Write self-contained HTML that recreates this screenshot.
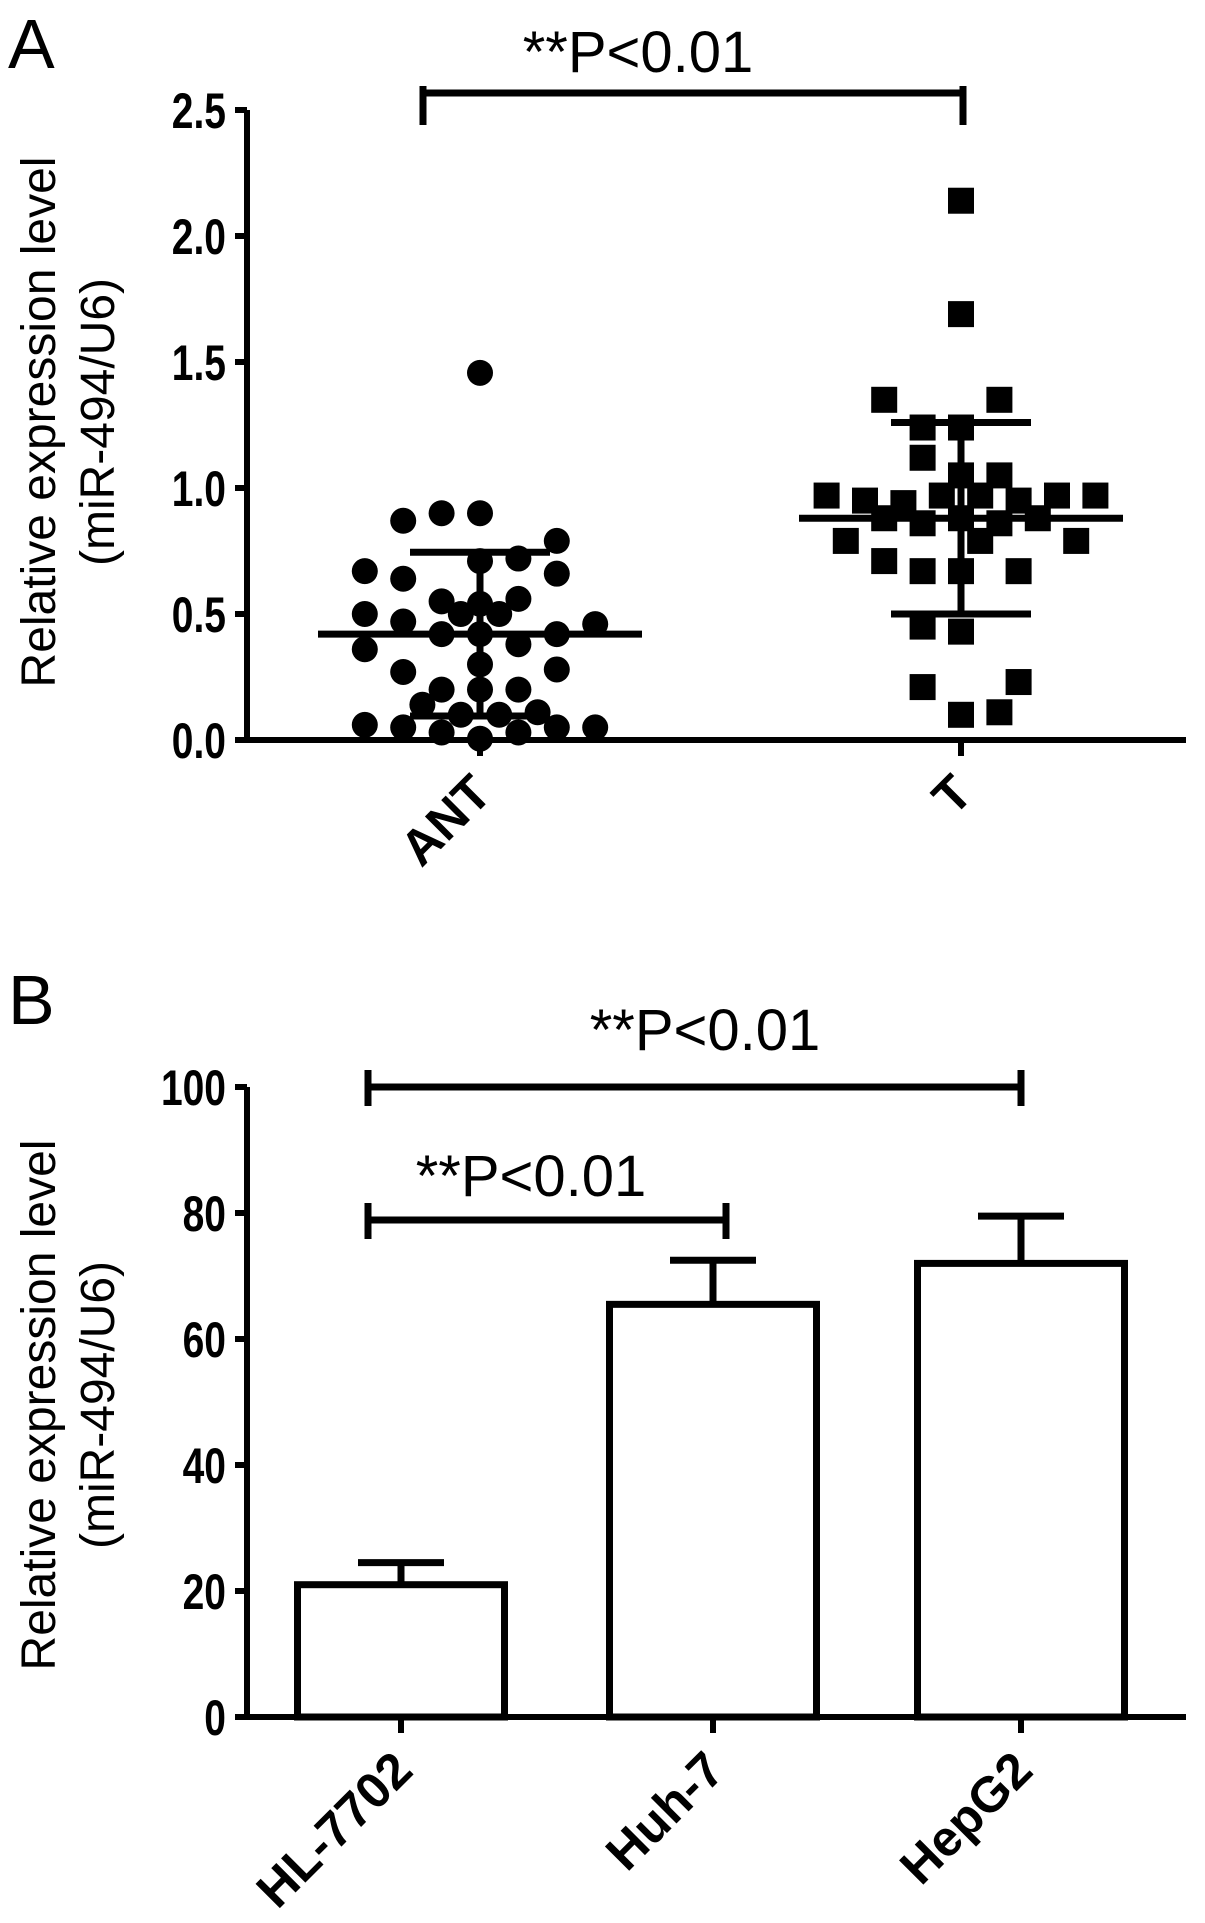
<!DOCTYPE html>
<html><head><meta charset="utf-8"><style>
body{margin:0;background:#fff}
svg{display:block;font-family:"Liberation Sans",sans-serif}
.tk{font-weight:bold;font-size:50px}
</style></head><body>
<svg width="1205" height="1923" viewBox="0 0 1205 1923">
<g id="A"></g>
<g id="B"></g>
</svg>
<script>
// Panel A data
const antValues=[1.457,0.87,0.90,0.90,0.79,0.67,0.64,0.71,0.72,0.66,0.55,0.54,0.56,0.50,0.47,0.50,0.50,0.46,0.42,0.42,0.38,0.42,0.36,0.27,0.30,0.28,0.20,0.20,0.20,0.14,0.10,0.10,0.11,0.06,0.05,0.03,0.005,0.03,0.05,0.05];
const antJitter=[0,-4,-2,0,4,-6,-4,0,2,4,-2,0,2,-6,-4,-1,1,6,-2,0,2,4,-6,-4,0,4,-2,0,2,-3,-1,1,3,-6,-4,-2,0,2,4,6];
const tValues=[2.14,1.69,1.35,1.35,1.24,1.24,1.12,1.05,1.05,0.97,0.95,0.94,0.97,0.97,0.95,0.97,0.97,0.88,0.86,0.88,0.86,0.88,0.79,0.79,0.79,0.71,0.67,0.67,0.67,0.45,0.43,0.21,0.23,0.10,0.11];
const tJitter=[0,0,-4,2,-2,0,-2,2,0,-7,-5,-3,-1,1,3,5,7,-4,-2,0,2,4,-6,1,6,-4,-2,0,3,-2,0,-2,3,0,2];
const groupsA=["ANT","T"];
const meansA=[0.42,0.88];
const sdA=[0.325,0.38];
const ticksA=[0,0.5,1.0,1.5,2.0,2.5];
// Panel B data
const catsB=["HL-7702","Huh-7","HepG2"];
const valsB=[21,65.5,72];
const errB=[3.5,7,7.5];
const ticksB=[0,20,40,60,80,100];

const NS="http://www.w3.org/2000/svg";
function mk(p,t,a,txt){const e=document.createElementNS(NS,t);for(const k in a)e.setAttribute(k,a[k]);if(txt!==undefined)e.textContent=txt;p.appendChild(e);return e;}
const SW=6;

// ---- Panel A
const A=document.getElementById('A');
const ax0=247, ay0=740, aPer=252, axR=1186;
const ay=v=>ay0-v*aPer;
const gx=[480,961];
const js=19.2;
let t=mk(A,'text',{x:8,y:68,'font-size':70},'A');


let l=mk(A,'path',{d:`M${ax0} ${ay(2.5)}V${ay0}H${axR}`,stroke:'#000','stroke-width':SW,fill:'none'});


ticksA.forEach(v=>{
  mk(A,'line',{x1:ax0-12,x2:ax0,y1:ay(v),y2:ay(v),stroke:'#000','stroke-width':SW});
  const e=mk(A,'text',{x:0,y:0,'text-anchor':'end',class:'tk',transform:`translate(226,${ay(v)+18}) scale(0.78,1)`},v.toFixed(1));
  
  
});
groupsA.forEach((g,i)=>{
  mk(A,'line',{x1:gx[i],x2:gx[i],y1:ay0,y2:ay0+16,stroke:'#000','stroke-width':SW});
  const e=mk(A,'text',{x:0,y:0,'text-anchor':'end',class:'tk','font-size':48,transform:`translate(${gx[i]+14},${ay0+56}) rotate(-45)`},g);
  
  
});
let yt=mk(A,'text',{transform:'translate(55,422) rotate(-90)','text-anchor':'middle','font-size':48},'Relative expression level');


yt=mk(A,'text',{transform:'translate(114,422) rotate(-90)','text-anchor':'middle','font-size':48},'(miR-494/U6)');


antValues.forEach((v,i)=>{
  const c=mk(A,'circle',{cx:gx[0]+antJitter[i]*js,cy:ay(v),r:13,fill:'#000'});
  
  
});
tValues.forEach((v,i)=>{
  const c=mk(A,'rect',{x:gx[1]+tJitter[i]*js-13,y:ay(v)-13,width:26,height:26,fill:'#000'});
  
  
});
groupsA.forEach((g,i)=>{
  const m=meansA[i],s=sdA[i],x=gx[i];
  const e=mk(A,'path',{d:`M${x-162} ${ay(m)}H${x+162}M${x-70} ${ay(m+s)}H${x+70}M${x-70} ${ay(m-s)}H${x+70}M${x} ${ay(m+s)}V${ay(m-s)}`,stroke:'#000','stroke-width':SW+1,fill:'none'});
  
  
});
let br=mk(A,'path',{d:'M423 93H963M423 86V125M963 86V125',stroke:'#000','stroke-width':SW+1,fill:'none'});


t=mk(A,'text',{x:638,y:72,'text-anchor':'middle','font-size':58},'**P<0.01');



// ---- Panel B
const B=document.getElementById('B');
const by0=1717, bPer=6.30, bx0=247;
const by=v=>by0-v*bPer;
const bxc=[401,713,1021], bw=207;
t=mk(B,'text',{x:8,y:1024,'font-size':70},'B');


l=mk(B,'path',{d:`M${bx0} ${by(100)}V${by0}H${axR}`,stroke:'#000','stroke-width':SW,fill:'none'});


ticksB.forEach(v=>{
  mk(B,'line',{x1:bx0-12,x2:bx0,y1:by(v),y2:by(v),stroke:'#000','stroke-width':SW});
  const e=mk(B,'text',{x:0,y:0,'text-anchor':'end',class:'tk',transform:`translate(226,${by(v)+18}) scale(0.78,1)`},String(v));
  
  
});
yt=mk(B,'text',{transform:'translate(55,1405) rotate(-90)','text-anchor':'middle','font-size':48},'Relative expression level');


yt=mk(B,'text',{transform:'translate(114,1405) rotate(-90)','text-anchor':'middle','font-size':48},'(miR-494/U6)');


catsB.forEach((c,i)=>{
  const x=bxc[i],v=valsB[i],e=errB[i];
  const eb=mk(B,'path',{d:`M${x} ${by(v)}V${by(v+e)}M${x-43} ${by(v+e)}H${x+43}`,stroke:'#000','stroke-width':SW+1,fill:'none'});
  
  
  const r=mk(B,'rect',{x:x-bw/2,y:by(v),width:bw,height:by0-by(v),fill:'#fff',stroke:'#000','stroke-width':SW+1});
  
  
  mk(B,'line',{x1:x,x2:x,y1:by0,y2:by0+16,stroke:'#000','stroke-width':SW});
  const lb=mk(B,'text',{x:0,y:0,'text-anchor':'end',class:'tk','font-size':48,transform:`translate(${x+14},${by0+56}) rotate(-45)`},c);
  
  
});
br=mk(B,'path',{d:'M368 1087H1021M368 1070V1106M1021 1070V1106',stroke:'#000','stroke-width':SW+1,fill:'none'});


br=mk(B,'path',{d:'M368 1220H726M368 1203V1239M726 1203V1239',stroke:'#000','stroke-width':SW+1,fill:'none'});


t=mk(B,'text',{x:705,y:1050,'text-anchor':'middle','font-size':58},'**P<0.01');


t=mk(B,'text',{x:531,y:1196,'text-anchor':'middle','font-size':58},'**P<0.01');


</script>
</body></html>
